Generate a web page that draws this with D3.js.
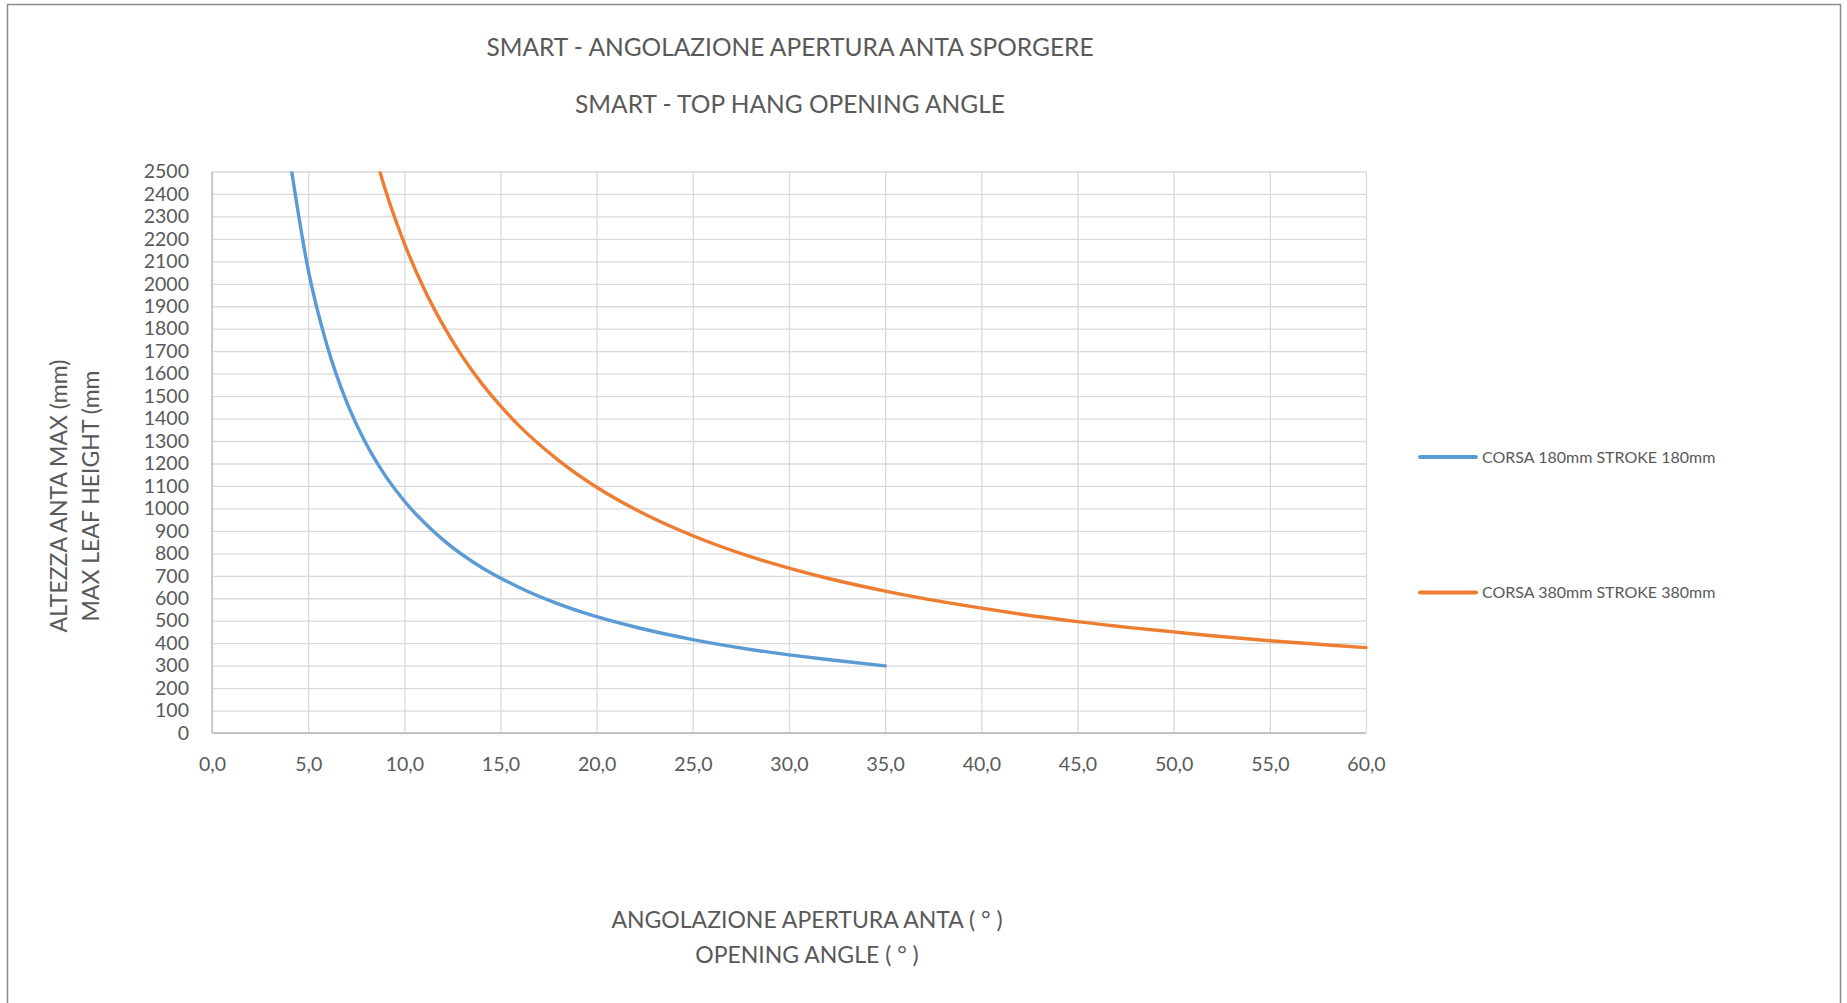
<!DOCTYPE html>
<html><head><meta charset="utf-8">
<script src="https://cdn.jsdelivr.net/npm/d3@7"></script>
<style>
body{margin:0;background:#fff;}
text{font-family:Lato,'Open Sans',sans-serif;fill:#595959;}
</style>
</head><body>
<svg id="chart" width="1847" height="1003"></svg>
<script>
// ---- data ----
const titleLines = ["SMART - ANGOLAZIONE APERTURA ANTA SPORGERE", "SMART - TOP HANG OPENING ANGLE"];
const xTitleLines = ["ANGOLAZIONE APERTURA ANTA ( ° )", "OPENING ANGLE ( ° )"];
const yTitleLines = ["ALTEZZA ANTA MAX (mm)", "MAX LEAF HEIGHT (mm"];
const seriesNames = ["CORSA 180mm STROKE 180mm", "CORSA 380mm STROKE 380mm"];
const seriesColors = ["#5B9BD5", "#ED7D31"];
const xTickValues = [0,5,10,15,20,25,30,35,40,45,50,55,60];
const xTickLabels = ["0,0","5,0","10,0","15,0","20,0","25,0","30,0","35,0","40,0","45,0","50,0","55,0","60,0"];
const yTickValues = [0,100,200,300,400,500,600,700,800,900,1000,1100,1200,1300,1400,1500,1600,1700,1800,1900,2000,2100,2200,2300,2400,2500];
const yTickLabels = ["0","100","200","300","400","500","600","700","800","900","1000","1100","1200","1300","1400","1500","1600","1700","1800","1900","2000","2100","2200","2300","2400","2500"];
const angles180  = [4, 5, 6, 7, 8, 9, 10, 12, 14, 16, 18, 20, 22, 25, 28, 30, 32, 35];
const heights180 = [2580, 2063, 1720, 1474, 1290, 1147, 1033, 861, 738, 647, 575, 518, 472, 416, 372, 348, 327, 299];
const angles380  = [8, 9, 10, 11, 12, 13, 14, 15, 16, 18, 20, 22, 25, 28, 30, 32, 35, 38, 40, 42, 45, 48, 50, 52, 55, 58, 60];
const heights380 = [2724, 2422, 2180, 1982, 1818, 1678, 1559, 1456, 1365, 1215, 1094, 996, 878, 785, 734, 689, 632, 584, 556, 530, 496, 467, 450, 433, 411, 392, 380];

// ---- layout ----
const svg = d3.select("#chart");
const L = 212, R = 1366, T = 171.5, B = 733;
const x = d3.scaleLinear().domain([0, 60]).range([L, R]);
const y = d3.scaleLinear().domain([0, 2500]).range([B, T]);

// outer border
svg.append("rect").attr("x", 7.5).attr("y", 4.5).attr("width", 1833).attr("height", 1010)
  .attr("fill", "none").attr("stroke", "#8c8c8c").attr("stroke-width", 1.5);

// titles
svg.selectAll("text.title").data(titleLines).join("text").attr("class", "title")
  .attr("x", 790).attr("y", (d, i) => [47, 104][i]).attr("dy", "0.36em")
  .attr("text-anchor", "middle").style("font-size", "24.5px").text(d => d);

// y axis with grid
const yAxis = svg.append("g").attr("transform", `translate(${L},0)`)
  .call(d3.axisLeft(y).tickValues(yTickValues).tickFormat((d, i) => yTickLabels[i])
    .tickSize(-(R - L)).tickPadding(23));
yAxis.select(".domain").remove();
yAxis.selectAll(".tick line").attr("stroke", "#d9d9d9").attr("stroke-width", 1.3);
yAxis.selectAll(".tick text").style("font-size", "19.5px").attr("fill", "#595959");

// x axis with grid
const xAxis = svg.append("g").attr("transform", `translate(0,${B})`)
  .call(d3.axisBottom(x).tickValues(xTickValues).tickFormat((d, i) => xTickLabels[i])
    .tickSize(-(B - T)).tickPadding(24));
xAxis.select(".domain").remove();
xAxis.selectAll(".tick line").attr("stroke", "#d9d9d9").attr("stroke-width", 1.3);
xAxis.selectAll(".tick text").style("font-size", "19.5px").attr("fill", "#595959");

// axis lines
svg.append("line").attr("x1", L).attr("x2", L).attr("y1", T).attr("y2", B)
  .attr("stroke", "#c4c4c4").attr("stroke-width", 1.6);
svg.append("line").attr("x1", L).attr("x2", R).attr("y1", B).attr("y2", B)
  .attr("stroke", "#c4c4c4").attr("stroke-width", 2);

// clip
svg.append("clipPath").attr("id", "plotclip").append("rect")
  .attr("x", L).attr("y", T).attr("width", R - L + 4).attr("height", B - T);

const line = d3.line().x(d => x(d[0])).y(d => y(d[1])).curve(d3.curveMonotoneX);
const series = [
  d3.zip(angles180, heights180),
  d3.zip(angles380, heights380)
];
svg.append("g").attr("clip-path", "url(#plotclip)").selectAll("path").data(series).join("path")
  .attr("d", line).attr("fill", "none")
  .attr("stroke", (d, i) => seriesColors[i]).attr("stroke-width", 3.4).attr("stroke-linecap", "round");

// axis titles
const yt = svg.append("g").attr("transform", "translate(0,496) rotate(-90)");
yt.selectAll("text").data(yTitleLines).join("text")
  .attr("x", 0).attr("y", (d, i) => [59, 91][i]).attr("dy", "0.36em")
  .attr("text-anchor", "middle").style("font-size", "23px").text(d => d);

svg.selectAll("text.xtitle").data(xTitleLines).join("text").attr("class", "xtitle")
  .attr("x", 807).attr("y", (d, i) => [920, 955][i]).attr("dy", "0.36em")
  .attr("text-anchor", "middle").style("font-size", "23px").text(d => d);

// legend
const lg = svg.append("g");
const legendY = [457, 592.5];
seriesNames.forEach((n, i) => {
  lg.append("line").attr("x1", 1420).attr("x2", 1476).attr("y1", legendY[i]).attr("y2", legendY[i])
    .attr("stroke", seriesColors[i]).attr("stroke-width", 3.8).attr("stroke-linecap", "round");
  lg.append("text").attr("x", 1482).attr("y", legendY[i]).attr("dy", "0.36em")
    .style("font-size", "16px").text(n);
});
</script>
</body></html>
